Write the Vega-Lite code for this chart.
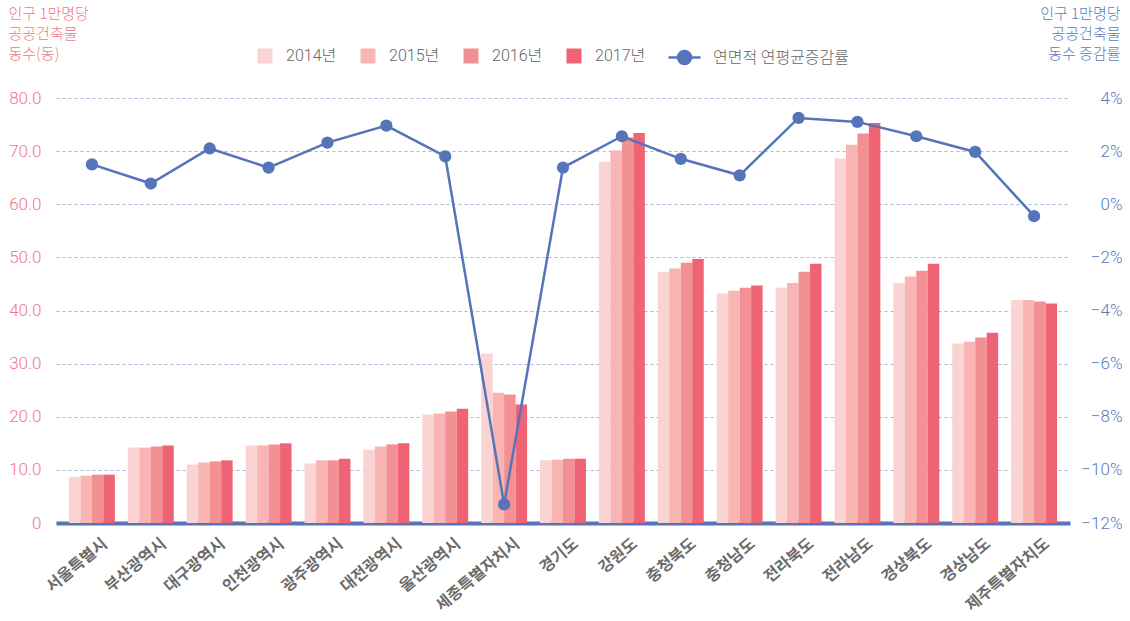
{
  "$schema": "https://vega.github.io/schema/vega-lite/v6.json",
  "autosize": {"type": "none"},
  "padding": {"left": 56, "top": 98, "right": 60, "bottom": 98},
  "width": 1014,
  "height": 425,
  "config": {"view": {"stroke": null}, "font": "Roboto, Noto Sans CJK KR"},
  "datasets": {
    "bars": [
      {"region": "서울특별시", "year": "2014년", "value": 8.7},
      {"region": "서울특별시", "year": "2015년", "value": 8.9},
      {"region": "서울특별시", "year": "2016년", "value": 9.1},
      {"region": "서울특별시", "year": "2017년", "value": 9.1},
      {"region": "부산광역시", "year": "2014년", "value": 14.2},
      {"region": "부산광역시", "year": "2015년", "value": 14.2},
      {"region": "부산광역시", "year": "2016년", "value": 14.4},
      {"region": "부산광역시", "year": "2017년", "value": 14.6},
      {"region": "대구광역시", "year": "2014년", "value": 11.0},
      {"region": "대구광역시", "year": "2015년", "value": 11.4},
      {"region": "대구광역시", "year": "2016년", "value": 11.6},
      {"region": "대구광역시", "year": "2017년", "value": 11.8},
      {"region": "인천광역시", "year": "2014년", "value": 14.6},
      {"region": "인천광역시", "year": "2015년", "value": 14.6},
      {"region": "인천광역시", "year": "2016년", "value": 14.8},
      {"region": "인천광역시", "year": "2017년", "value": 15.0},
      {"region": "광주광역시", "year": "2014년", "value": 11.2},
      {"region": "광주광역시", "year": "2015년", "value": 11.8},
      {"region": "광주광역시", "year": "2016년", "value": 11.8},
      {"region": "광주광역시", "year": "2017년", "value": 12.1},
      {"region": "대전광역시", "year": "2014년", "value": 13.8},
      {"region": "대전광역시", "year": "2015년", "value": 14.4},
      {"region": "대전광역시", "year": "2016년", "value": 14.8},
      {"region": "대전광역시", "year": "2017년", "value": 15.0},
      {"region": "울산광역시", "year": "2014년", "value": 20.4},
      {"region": "울산광역시", "year": "2015년", "value": 20.6},
      {"region": "울산광역시", "year": "2016년", "value": 21.0},
      {"region": "울산광역시", "year": "2017년", "value": 21.5},
      {"region": "세종특별자치시", "year": "2014년", "value": 31.9},
      {"region": "세종특별자치시", "year": "2015년", "value": 24.5},
      {"region": "세종특별자치시", "year": "2016년", "value": 24.2},
      {"region": "세종특별자치시", "year": "2017년", "value": 22.3},
      {"region": "경기도", "year": "2014년", "value": 11.8},
      {"region": "경기도", "year": "2015년", "value": 11.9},
      {"region": "경기도", "year": "2016년", "value": 12.1},
      {"region": "경기도", "year": "2017년", "value": 12.1},
      {"region": "강원도", "year": "2014년", "value": 68.0},
      {"region": "강원도", "year": "2015년", "value": 70.1},
      {"region": "강원도", "year": "2016년", "value": 72.6},
      {"region": "강원도", "year": "2017년", "value": 73.4},
      {"region": "충청북도", "year": "2014년", "value": 47.3},
      {"region": "충청북도", "year": "2015년", "value": 47.9},
      {"region": "충청북도", "year": "2016년", "value": 49.0},
      {"region": "충청북도", "year": "2017년", "value": 49.7},
      {"region": "충청남도", "year": "2014년", "value": 43.2},
      {"region": "충청남도", "year": "2015년", "value": 43.7},
      {"region": "충청남도", "year": "2016년", "value": 44.3},
      {"region": "충청남도", "year": "2017년", "value": 44.7},
      {"region": "전라북도", "year": "2014년", "value": 44.3},
      {"region": "전라북도", "year": "2015년", "value": 45.2},
      {"region": "전라북도", "year": "2016년", "value": 47.3},
      {"region": "전라북도", "year": "2017년", "value": 48.8},
      {"region": "전라남도", "year": "2014년", "value": 68.6},
      {"region": "전라남도", "year": "2015년", "value": 71.2},
      {"region": "전라남도", "year": "2016년", "value": 73.3},
      {"region": "전라남도", "year": "2017년", "value": 75.3},
      {"region": "경상북도", "year": "2014년", "value": 45.2},
      {"region": "경상북도", "year": "2015년", "value": 46.4},
      {"region": "경상북도", "year": "2016년", "value": 47.5},
      {"region": "경상북도", "year": "2017년", "value": 48.8},
      {"region": "경상남도", "year": "2014년", "value": 33.8},
      {"region": "경상남도", "year": "2015년", "value": 34.1},
      {"region": "경상남도", "year": "2016년", "value": 34.9},
      {"region": "경상남도", "year": "2017년", "value": 35.8},
      {"region": "제주특별자치도", "year": "2014년", "value": 42.0},
      {"region": "제주특별자치도", "year": "2015년", "value": 42.0},
      {"region": "제주특별자치도", "year": "2016년", "value": 41.7},
      {"region": "제주특별자치도", "year": "2017년", "value": 41.3}
    ],
    "rates": [
      {"region": "서울특별시", "rate": 1.50},
      {"region": "부산광역시", "rate": 0.78},
      {"region": "대구광역시", "rate": 2.10},
      {"region": "인천광역시", "rate": 1.38},
      {"region": "광주광역시", "rate": 2.32},
      {"region": "대전광역시", "rate": 2.96},
      {"region": "울산광역시", "rate": 1.80},
      {"region": "세종특별자치시", "rate": -11.30},
      {"region": "경기도", "rate": 1.38},
      {"region": "강원도", "rate": 2.56},
      {"region": "충청북도", "rate": 1.71},
      {"region": "충청남도", "rate": 1.09},
      {"region": "전라북도", "rate": 3.25},
      {"region": "전라남도", "rate": 3.10},
      {"region": "경상북도", "rate": 2.56},
      {"region": "경상남도", "rate": 1.97},
      {"region": "제주특별자치도", "rate": -0.45}
    ]
  },
  "layer": [
    {
      "data": {"name": "bars"},
      "mark": {"type": "bar"},
      "encoding": {
        "x": {
          "field": "region", "type": "nominal",
          "sort": ["서울특별시","부산광역시","대구광역시","인천광역시","광주광역시","대전광역시","울산광역시","세종특별자치시","경기도","강원도","충청북도","충청남도","전라북도","전라남도","경상북도","경상남도","제주특별자치도"],
          "scale": {"paddingInner": 0.22, "paddingOuter": 0.22},
          "axis": {
            "title": null, "labelAngle": -40, "labelAlign": "right", "labelBaseline": "top",
            "labelFont": "Noto Sans CJK KR", "labelFontWeight": "bold", "labelFontSize": 16,
            "labelColor": "#6b6b6b", "ticks": false, "domainColor": "#5574b9", "domainWidth": 4,
            "labelPadding": 12, "labelOffset": 8
          }
        },
        "xOffset": {"field": "year", "type": "nominal", "scale": {"paddingInner": 0, "paddingOuter": 0}},
        "y": {
          "field": "value", "type": "quantitative",
          "scale": {"domain": [0, 80]},
          "axis": {
            "orient": "left", "values": [0,10,20,30,40,50,60,70,80],
            "labelExpr": "datum.value == 0 ? '0' : format(datum.value, '.1f')",
            "labelColor": "#f0788a", "labelFontSize": 17, "labelFont": "Roboto", "labelFontWeight": 300,
            "labelPadding": 15, "ticks": false, "domain": false,
            "grid": true, "gridColor": "#a9b6d8", "gridDash": [3, 3], "gridWidth": 1,
            "title": ["인구 1만명당", "공공건축물", "동수(동)"],
            "titleAngle": 0, "titleAlign": "left", "titleBaseline": "top",
            "titleX": -48, "titleY": -92, "titleColor": "#f0788a", "titleFontSize": 15,
            "titleFontWeight": 300, "titleLineHeight": 20, "titleFont": "Noto Sans CJK KR"
          }
        },
        "color": {
          "field": "year", "type": "nominal",
          "scale": {"domain": ["2014년","2015년","2016년","2017년"], "range": ["#f9d4d3","#f8b5b4","#f39093","#ef6474"]},
          "legend": {
            "orient": "none", "legendX": 201, "legendY": -50, "direction": "horizontal",
            "title": null, "symbolType": "square", "symbolSize": 225, "symbolStrokeWidth": 0,
            "labelFontSize": 16, "labelColor": "#666666", "labelOffset": 13, "columnPadding": 23,
            "padding": 0, "labelFont": "Roboto, Noto Sans CJK KR", "labelFontWeight": 300
          }
        }
      }
    },
    {
      "data": {"name": "rates"},
      "encoding": {
        "x": {
          "field": "region", "type": "nominal",
          "sort": ["서울특별시","부산광역시","대구광역시","인천광역시","광주광역시","대전광역시","울산광역시","세종특별자치시","경기도","강원도","충청북도","충청남도","전라북도","전라남도","경상북도","경상남도","제주특별자치도"]
        },
        "y": {
          "field": "rate", "type": "quantitative",
          "scale": {"domain": [-12, 4]},
          "axis": {
            "orient": "right", "values": [-12,-10,-8,-6,-4,-2,0,2,4],
            "labelExpr": "format(datum.value, 'd') + '%'",
            "labelColor": "#5a7bc0", "labelFontSize": 17, "labelFont": "Roboto", "labelFontWeight": 300,
            "labelAlign": "right", "labelPadding": 52, "ticks": false, "domain": false, "grid": false,
            "title": ["인구 1만명당", "공공건축물", "동수 증감률"],
            "titleAngle": 0, "titleAlign": "right", "titleBaseline": "top",
            "titleX": 50, "titleY": -92, "titleColor": "#5a7bc0", "titleFontSize": 15,
            "titleFontWeight": 300, "titleLineHeight": 20, "titleFont": "Noto Sans CJK KR"
          }
        }
      },
      "layer": [
        {
          "mark": {"type": "line", "strokeWidth": 2.5},
          "encoding": {
            "stroke": {
              "datum": "연면적 연평균증감률", "type": "nominal",
              "scale": {"range": ["#5574b9"]},
              "legend": {
                "orient": "none", "legendX": 617, "legendY": -52, "title": null,
                "symbolType": "M-1.6,0H1.6M-0.65,0A0.65,0.65 0 1,0 0.65,0A0.65,0.65 0 1,0 -0.65,0Z",
                "symbolSize": 400, "symbolStrokeWidth": 2.5, "symbolFillColor": "#5574b9",
                "labelFontSize": 16, "labelColor": "#666666", "labelOffset": 17, "padding": 0,
                "labelFont": "Noto Sans CJK KR", "labelFontWeight": 300
              }
            }
          }
        },
        {
          "mark": {"type": "point", "filled": true, "size": 150, "opacity": 1, "color": "#5574b9"}
        }
      ]
    }
  ],
  "resolve": {"scale": {"y": "independent"}}
}
